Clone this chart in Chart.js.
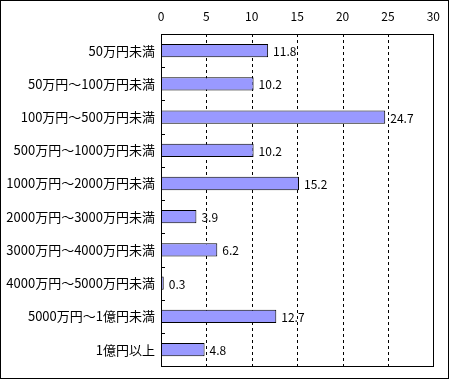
<!DOCTYPE html>
<html>
<head>
<meta charset="utf-8">
<script src="https://cdn.jsdelivr.net/npm/chart.js@4"></script>
<style>
  html, body { margin: 0; padding: 0; background: #fff; }
  #wrap { width: 450px; height: 380px; }
</style>
</head>
<body>
<div id="wrap"><canvas id="incomeChart" width="450" height="380"></canvas></div>
<script>
// categories and values
const categories = [
  '50万円未満', '50万円～100万円未満', '100万円～500万円未満', '500万円～1000万円未満',
  '1000万円～2000万円未満', '2000万円～3000万円未満', '3000万円～4000万円未満',
  '4000万円～5000万円未満', '5000万円～1億円未満', '1億円以上'
];
const values = [11.8, 10.2, 24.7, 10.2, 15.2, 3.9, 6.2, 0.3, 12.7, 4.8];
const tickValues = [0, 5, 10, 15, 20, 25, 30];

const FONT = "'Noto Sans CJK JP', sans-serif";

// dashed grid, plot border, outer frame, little category ticks and value labels
const decorations = {
  id: 'decorations',
  beforeDatasetsDraw(chart) {
    const { ctx, chartArea: a } = chart;
    const x = chart.scales.x;
    ctx.save();
    ctx.strokeStyle = '#000';
    ctx.lineWidth = 1;
    ctx.setLineDash([3, 3]);
    ctx.beginPath();
    tickValues.slice(1, -1).forEach(v => {
      const px = Math.round(x.getPixelForValue(v)) + 0.5;
      ctx.moveTo(px, a.top);
      ctx.lineTo(px, a.bottom);
    });
    ctx.stroke();
    ctx.restore();
  },
  afterDatasetsDraw(chart) {
    const { ctx, chartArea: a } = chart;
    const y = chart.scales.y;
    ctx.save();
    ctx.strokeStyle = '#000';
    ctx.lineWidth = 1;
    ctx.strokeRect(Math.round(a.left) + 0.5, Math.round(a.top) + 0.5,
      Math.round(a.right - a.left), Math.round(a.bottom - a.top));
    ctx.strokeRect(0.5, 0.5, 448, 378);
    ctx.beginPath();
    for (let i = 1; i < categories.length; i++) {
      const py = Math.round((y.getPixelForValue(i - 1) + y.getPixelForValue(i)) / 2) + 0.5;
      ctx.moveTo(a.left, py);
      ctx.lineTo(a.left + 4, py);
    }
    ctx.stroke();

    ctx.fillStyle = '#000';
    ctx.font = '12px ' + FONT;
    ctx.textBaseline = 'middle';
    chart.getDatasetMeta(0).data.forEach((bar, i) => {
      ctx.fillText(values[i].toFixed(1), bar.x + 5, bar.y + 1);
    });
    ctx.restore();
  }
};

new Chart(document.getElementById('incomeChart'), {
  type: 'bar',
  data: {
    labels: categories,
    datasets: [{
      data: values,
      backgroundColor: '#9999FF',
      borderColor: '#000',
      borderWidth: 1,
      borderSkipped: false,
      barPercentage: 0.4,
      categoryPercentage: 1
    }]
  },
  options: {
    indexAxis: 'y',
    responsive: false,
    animation: false,
    layout: { padding: { left: 0, top: 0, right: 16, bottom: 6 } },
    plugins: { legend: { display: false }, tooltip: { enabled: false } },
    scales: {
      x: {
        position: 'top',
        min: 0,
        max: 30,
        afterBuildTicks: (s) => { s.ticks = tickValues.map(v => ({ value: v })); },
        afterFit: (s) => { s.height = 34; },
        border: { display: false },
        grid: { display: false, drawTicks: false },
        ticks: { color: '#000', font: { family: FONT, size: 12 }, padding: 10, maxRotation: 0 }
      },
      y: {
        afterFit: (s) => { s.width = 161; },
        border: { display: false },
        grid: { display: false, drawTicks: false },
        ticks: { color: '#000', font: { family: FONT, size: 13 }, padding: 6 }
      }
    }
  },
  plugins: [decorations]
});
</script>
</body>
</html>
